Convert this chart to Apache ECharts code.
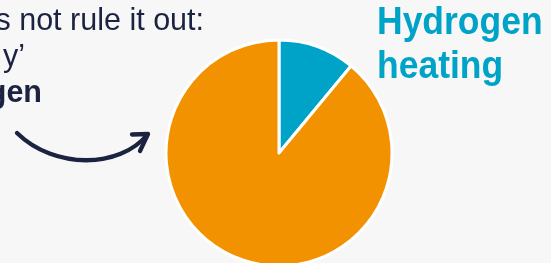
<!DOCTYPE html>
<html>
<head>
<meta charset="utf-8">
<script src="https://cdn.jsdelivr.net/npm/echarts@6/dist/echarts.min.js"></script>
<style>
html,body{margin:0;padding:0;background:#f7f7f7;}
#c{width:551px;height:263px;}
</style>
</head>
<body>
<div id="c"></div>
<script>
const categories = ['Hydrogen heating', 'Other'];
const values = [11, 89];
const colors = ['#00a3c8', '#f39200'];
const leftLines = ['s not rule it out:', 'y\u2019', 'gen'];
const labelLines = ['Hydrogen', 'heating'];

const chart = echarts.init(document.getElementById('c'), null, {renderer: 'canvas'});
const navy = '#1b2340';
const font = 'Arial, "Liberation Sans", sans-serif';
chart.setOption({
  backgroundColor: '#f7f7f7',
  animation: false,
  series: [{
    type: 'pie',
    center: [279, 153],
    radius: 113,
    startAngle: 90,
    clockwise: true,
    label: {show: false},
    labelLine: {show: false},
    silent: true,
    itemStyle: {borderColor: '#ffffff', borderWidth: 3},
    data: categories.map((n, i) => ({name: n, value: values[i], itemStyle: {color: colors[i]}}))
  }],
  graphic: [
    {type: 'text', x: 204, y: 22, style: {text: leftLines[0], fill: navy, font: '30.5px ' + font, align: 'right', verticalAlign: 'middle'}},
    {type: 'text', x: 25, y: 58, style: {text: leftLines[1], fill: navy, font: '30.5px ' + font, align: 'right', verticalAlign: 'middle'}},
    {type: 'text', x: 42, y: 94, style: {text: leftLines[2], fill: navy, font: 'bold 30.5px ' + font, align: 'right', verticalAlign: 'middle'}},
    {type: 'text', x: 377, y: 23, scaleX: 0.91, style: {text: labelLines[0], fill: '#00a3c8', font: 'bold 39px ' + font, align: 'left', verticalAlign: 'middle'}},
    {type: 'text', x: 377, y: 67, scaleX: 0.91, style: {text: labelLines[1], fill: '#00a3c8', font: 'bold 39px ' + font, align: 'left', verticalAlign: 'middle'}},
    {type: 'bezierCurve', shape: {x1: 17, y1: 133, x2: 147, y2: 135, cpx1: 55, cpy1: 170, cpx2: 120, cpy2: 168},
      style: {stroke: navy, lineWidth: 4.3, fill: null, lineCap: 'round'}},
    {type: 'polyline', shape: {points: [[132, 134.5], [148, 134], [140, 151]]},
      style: {stroke: navy, lineWidth: 4.3, fill: null, lineCap: 'round', lineJoin: 'round'}}
  ]
});
</script>
</body>
</html>
